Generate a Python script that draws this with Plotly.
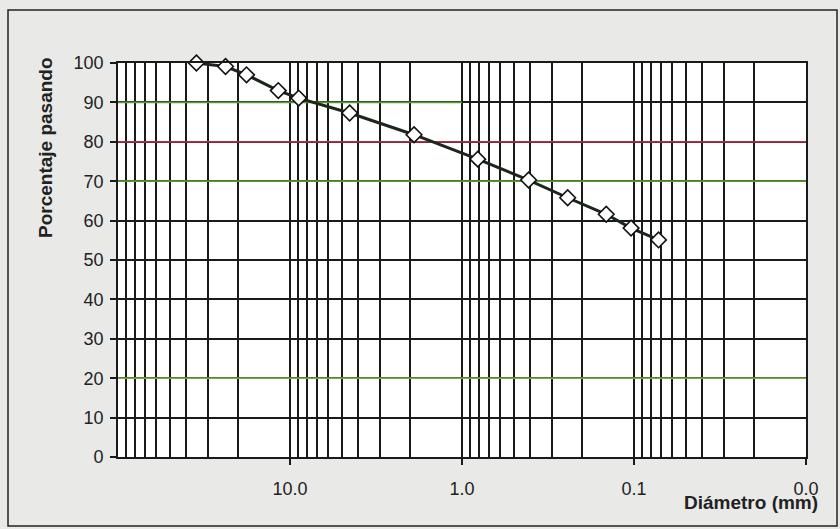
import plotly.graph_objects as go

# Data
diametro_mm = [35.0, 23.7, 17.9, 11.7, 8.9, 4.5, 1.9, 0.81, 0.41, 0.243, 0.145, 0.104, 0.072]
porcentaje_pasando = [100.0, 99.1, 97.0, 93.0, 91.1, 87.3, 81.8, 75.6, 70.3, 65.8, 61.6, 58.1, 55.1]

x_limits = [100, 0.01]
x_tick_vals = [10, 1, 0.1, 0.01]
x_tick_text = ["10.0", "1.0", "0.1", "0.0"]
y_tick_vals = [0, 10, 20, 30, 40, 50, 60, 70, 80, 90, 100]

# minor (2..9 x decade) grid values
minor_vals = [m * 10 ** e for e in (-2, -1, 0, 1) for m in range(2, 10)]

# scan-tinted gridlines in the reference (level, colour, right end)
tinted_grid_y = [90, 80, 70, 20]
tinted_grid_colors = ["#5a9a30", "#a8304e", "#5a9a30", "#7aa640"]
tinted_grid_end = [1.0, 0.01, 0.01, 0.01]

fig = go.Figure()
for yv, c, xe in zip(tinted_grid_y, tinted_grid_colors, tinted_grid_end):
    fig.add_trace(go.Scatter(x=[x_limits[0], xe], y=[yv, yv], mode="lines",
                             line=dict(color=c, width=1.8), hoverinfo="skip",
                             showlegend=False))

fig.add_trace(go.Scatter(
    x=diametro_mm, y=porcentaje_pasando,
    mode="lines+markers",
    line=dict(color="#1c261c", width=3),
    marker=dict(symbol="diamond", size=12, color="white",
                line=dict(color="#111111", width=1.6)),
    cliponaxis=False,
    showlegend=False,
))

grid_col = "#1a1a1a"
shapes = [
    # outer frame around the whole figure
    dict(type="rect", xref="paper", yref="paper",
         x0=(8 - 118) / 688, x1=(837 - 118) / 688,
         y0=(457 - 526) / 394, y1=(457 - 10) / 394,
         line=dict(color="#222222", width=1.5), fillcolor="rgba(0,0,0,0)")
]

fig.update_layout(
    width=840, height=529,
    margin=dict(l=118, r=34, t=63, b=72),
    paper_bgcolor="#e9e9e8",
    plot_bgcolor="white",
    font=dict(family="Arial, Liberation Sans, sans-serif", color="#222222", size=18),
    shapes=shapes,
    xaxis=dict(
        type="log", range=[2, -2],
        tickmode="array", tickvals=x_tick_vals, ticktext=x_tick_text,
        ticks="outside", ticklen=6, tickcolor=grid_col, tickwidth=1.6,
        ticklabelstandoff=9,
        showgrid=True, gridcolor=grid_col, gridwidth=1.6,
        minor=dict(tickmode="array", tickvals=minor_vals, showgrid=True,
                   gridcolor=grid_col, gridwidth=1.6, ticks=""),
        showline=True, linecolor=grid_col, linewidth=1.6, mirror=True,
        zeroline=False,
    ),
    yaxis=dict(
        range=[0, 100], tickmode="array", tickvals=y_tick_vals,
        ticks="outside", ticklen=6, tickcolor=grid_col, tickwidth=1.6,
        ticklabelstandoff=3,
        showgrid=True, gridcolor=grid_col, gridwidth=1.6,
        showline=True, linecolor=grid_col, linewidth=1.6, mirror=True,
        zeroline=False,
    ),
    annotations=[
        dict(text="<b>Porcentaje pasando</b>", textangle=-90, xref="paper", yref="paper",
             x=(45 - 118) / 688, y=(457 - 148) / 394, showarrow=False,
             font=dict(size=19, color="#222222"), xanchor="center", yanchor="middle"),
        dict(text="<b>Diámetro (mm)</b>", xref="paper", yref="paper",
             x=(751 - 118) / 688, y=(457 - 502) / 394, showarrow=False,
             font=dict(size=19, color="#222222"), xanchor="center", yanchor="middle"),
    ],
)

fig.write_html("out.html")
